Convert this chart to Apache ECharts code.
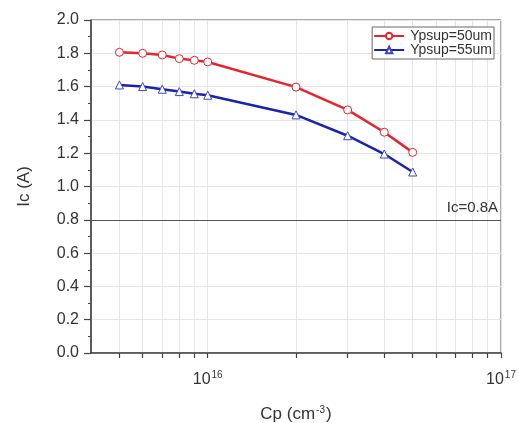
<!DOCTYPE html>
<html><head><meta charset="utf-8">
<script src="https://cdn.jsdelivr.net/npm/echarts@6/dist/echarts.min.js"></script>
<style>html,body{margin:0;padding:0;background:#fff}#c{width:519px;height:423px}</style>
</head><body><div id="c"></div>
<script>
const cp = [5e15, 6e15, 7e15, 8e15, 9e15, 1e16, 2e16, 3e16, 4e16, 5e16];
const ic50 = [1.806, 1.80, 1.79, 1.768, 1.758, 1.748, 1.597, 1.46, 1.326, 1.205];
const ic55 = [1.61, 1.60, 1.584, 1.57, 1.557, 1.548, 1.43, 1.305, 1.195, 1.087];
const seriesNames = ['Ypsup=50um', 'Ypsup=55um'];
const xTickValues = [5e15, 6e15, 7e15, 8e15, 9e15, 1e16, 2e16, 3e16, 4e16, 5e16, 6e16, 7e16, 8e16, 9e16, 1e17];
const xLabelValues = [1e16, 1e17];
const icLimit = 0.8;

const chart = echarts.init(document.getElementById('c'));
const font = 'Liberation Sans, Arial, sans-serif';
chart.setOption({
  animation: false,
  textStyle: {fontFamily: font},
  grid: {left: 91, right: 18, top: 20, bottom: 70, show: true, borderColor: '#555', borderWidth: 1, containLabel: false, outerBoundsMode: 'none'},
  legend: {
    right: 25, top: 27, orient: 'vertical', itemGap: 0, itemWidth: 30, itemHeight: 8,
    padding: [2, 2, 2, 1], borderColor: '#666', borderWidth: 1, backgroundColor: '#fff',
    textStyle: {fontSize: 14, lineHeight: 14, color: '#333', fontFamily: font, padding: [0, 0, 0, 1]},
    data: seriesNames
  },
  xAxis: {
    type: 'log', min: 4e15, max: 1e17, logBase: 10,
    name: '{b|Cp (cm}{s|-3}{b|)}', nameLocation: 'middle', nameGap: 52,
    nameTextStyle: {rich: {b: {fontSize: 17, color: '#333', fontFamily: font}, s: {fontSize: 10, color: '#333', verticalAlign: 'bottom', padding: [0, 1, 9, 1], fontFamily: font}}},
    axisLine: {show: true, onZero: false, lineStyle: {color: '#444', width: 1.5}},
    axisTick: {show: true, inside: false, length: 5, customValues: xTickValues, lineStyle: {color: '#444', width: 1.2}},
    axisLabel: {
      customValues: xLabelValues, margin: 17,
      formatter: v => '{b|10}{s|' + Math.round(Math.log10(v)) + '}',
      rich: {b: {fontSize: 16, color: '#333', fontFamily: font}, s: {fontSize: 10, color: '#333', verticalAlign: 'bottom', padding: [0, 0, 10, 1], fontFamily: font}}
    },
    splitLine: {show: true, lineStyle: {color: '#e6e6e6', width: 1}},
    minorTick: {show: false}
  },
  yAxis: {
    type: 'value', min: 0, max: 2.0, interval: 0.2,
    name: 'Ic (A)', nameLocation: 'middle', nameGap: 58,
    nameTextStyle: {fontSize: 17, color: '#333', fontFamily: font},
    axisLine: {show: true, lineStyle: {color: '#444', width: 1.5}},
    axisTick: {show: true, length: 7, lineStyle: {color: '#444', width: 1.2}},
    minorTick: {show: true, splitNumber: 2, length: 3, lineStyle: {color: '#444'}},
    axisLabel: {fontSize: 16, color: '#333', margin: 12, formatter: v => v.toFixed(1)},
    splitLine: {show: true, lineStyle: {color: '#e6e6e6', width: 1}}
  },
  series: [
    {
      name: seriesNames[0], type: 'line', data: cp.map((x, i) => [x, ic50[i]]),
      symbol: 'circle', symbolSize: 8,
      lineStyle: {color: '#e8232b', width: 2.5},
      itemStyle: {color: '#fff', borderColor: '#e8232b', borderWidth: 1},
      markLine: {
        silent: true, symbol: 'none',
        lineStyle: {color: '#555', width: 1.2, type: 'solid'},
        label: {position: 'insideEndTop', formatter: 'Ic=0.8A', fontSize: 15, color: '#333', distance: [3, 4]},
        data: [{yAxis: icLimit}]
      }
    },
    {
      name: seriesNames[1], type: 'line', data: cp.map((x, i) => [x, ic55[i]]),
      symbol: 'triangle', symbolSize: 8,
      lineStyle: {color: '#1a22b0', width: 2.5},
      itemStyle: {color: '#fff', borderColor: '#3a44c8', borderWidth: 1}
    }
  ]
});
</script></body></html>
